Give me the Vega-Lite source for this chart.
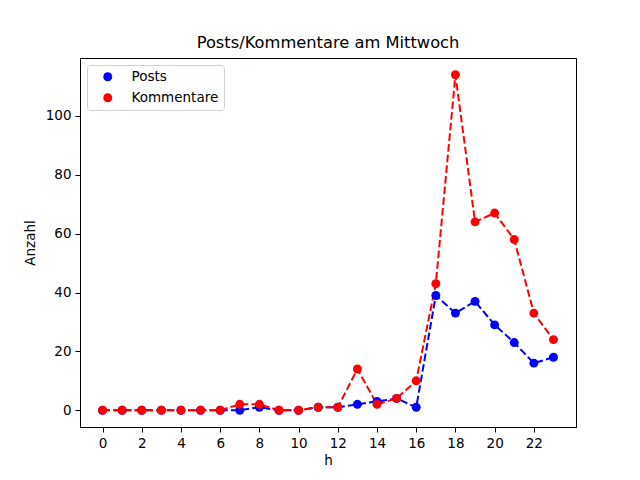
{
  "$schema": "https://vega.github.io/schema/vega-lite/v6.json",
  "autosize": {"type": "none"},
  "width": 496,
  "height": 369,
  "padding": {"left": 80, "top": 58, "right": 64, "bottom": 53},
  "background": "white",
  "title": {"text": "Posts/Kommentare am Mittwoch", "fontSize": 16.3, "font": "DejaVu Sans", "fontWeight": "normal", "offset": 7, "color": "black"},
  "config": {
    "view": {"stroke": "black", "strokeWidth": 1},
    "axis": {"grid": false, "domainColor": "black", "tickColor": "black", "tickSize": 5, "labelFont": "DejaVu Sans", "labelFontSize": 13.5, "labelColor": "black", "titleFont": "DejaVu Sans", "titleFontSize": 13.5, "titleFontWeight": "normal", "titleColor": "black", "labelPadding": 4}
  },
  "data": {"values": [
    {"h": 0, "Anzahl": 0, "series": "Posts"},
    {"h": 1, "Anzahl": 0, "series": "Posts"},
    {"h": 2, "Anzahl": 0, "series": "Posts"},
    {"h": 3, "Anzahl": 0, "series": "Posts"},
    {"h": 4, "Anzahl": 0, "series": "Posts"},
    {"h": 5, "Anzahl": 0, "series": "Posts"},
    {"h": 6, "Anzahl": 0, "series": "Posts"},
    {"h": 7, "Anzahl": 0, "series": "Posts"},
    {"h": 8, "Anzahl": 1, "series": "Posts"},
    {"h": 9, "Anzahl": 0, "series": "Posts"},
    {"h": 10, "Anzahl": 0, "series": "Posts"},
    {"h": 11, "Anzahl": 1, "series": "Posts"},
    {"h": 12, "Anzahl": 1, "series": "Posts"},
    {"h": 13, "Anzahl": 2, "series": "Posts"},
    {"h": 14, "Anzahl": 3, "series": "Posts"},
    {"h": 15, "Anzahl": 4, "series": "Posts"},
    {"h": 16, "Anzahl": 1, "series": "Posts"},
    {"h": 17, "Anzahl": 39, "series": "Posts"},
    {"h": 18, "Anzahl": 33, "series": "Posts"},
    {"h": 19, "Anzahl": 37, "series": "Posts"},
    {"h": 20, "Anzahl": 29, "series": "Posts"},
    {"h": 21, "Anzahl": 23, "series": "Posts"},
    {"h": 22, "Anzahl": 16, "series": "Posts"},
    {"h": 23, "Anzahl": 18, "series": "Posts"},
    {"h": 0, "Anzahl": 0, "series": "Kommentare"},
    {"h": 1, "Anzahl": 0, "series": "Kommentare"},
    {"h": 2, "Anzahl": 0, "series": "Kommentare"},
    {"h": 3, "Anzahl": 0, "series": "Kommentare"},
    {"h": 4, "Anzahl": 0, "series": "Kommentare"},
    {"h": 5, "Anzahl": 0, "series": "Kommentare"},
    {"h": 6, "Anzahl": 0, "series": "Kommentare"},
    {"h": 7, "Anzahl": 2, "series": "Kommentare"},
    {"h": 8, "Anzahl": 2, "series": "Kommentare"},
    {"h": 9, "Anzahl": 0, "series": "Kommentare"},
    {"h": 10, "Anzahl": 0, "series": "Kommentare"},
    {"h": 11, "Anzahl": 1, "series": "Kommentare"},
    {"h": 12, "Anzahl": 1, "series": "Kommentare"},
    {"h": 13, "Anzahl": 14, "series": "Kommentare"},
    {"h": 14, "Anzahl": 2, "series": "Kommentare"},
    {"h": 15, "Anzahl": 4, "series": "Kommentare"},
    {"h": 16, "Anzahl": 10, "series": "Kommentare"},
    {"h": 17, "Anzahl": 43, "series": "Kommentare"},
    {"h": 18, "Anzahl": 114, "series": "Kommentare"},
    {"h": 19, "Anzahl": 64, "series": "Kommentare"},
    {"h": 20, "Anzahl": 67, "series": "Kommentare"},
    {"h": 21, "Anzahl": 58, "series": "Kommentare"},
    {"h": 22, "Anzahl": 33, "series": "Kommentare"},
    {"h": 23, "Anzahl": 24, "series": "Kommentare"}
  ]},
  "encoding": {
    "x": {"field": "h", "type": "quantitative", "scale": {"domain": [-1.15, 24.15], "nice": false, "zero": false}, "axis": {"values": [0, 2, 4, 6, 8, 10, 12, 14, 16, 18, 20, 22], "title": "h", "titlePadding": 4}},
    "y": {"field": "Anzahl", "type": "quantitative", "scale": {"domain": [-5.7, 119.7], "nice": false, "zero": false}, "axis": {"values": [0, 20, 40, 60, 80, 100], "title": "Anzahl", "titlePadding": 8}}
  },
  "resolve": {"legend": {"color": "independent"}},
  "layer": [
    {"mark": {"type": "line", "strokeWidth": 2, "strokeDash": [7.5, 3.2]}, "encoding": {"color": {"field": "series", "type": "nominal", "scale": {"domain": ["Posts", "Kommentare"], "range": ["#0000ff", "#ff0000"]}, "legend": null}}},
    {"mark": {"type": "point", "filled": true, "opacity": 1, "size": 80, "shape": "circle"},
     "encoding": {"color": {"field": "series", "type": "nominal", "scale": {"domain": ["Posts", "Kommentare"], "range": ["#0000ff", "#ff0000"]},
       "legend": {"title": null, "orient": "none", "legendX": 7, "legendY": 7, "symbolType": "circle", "symbolSize": 80, "symbolOpacity": 1, "symbolStrokeWidth": 0, "labelFont": "DejaVu Sans", "labelFontSize": 13.5, "labelColor": "black", "labelOffset": 17, "rowPadding": 6, "padding": 5, "strokeColor": "#d0d0d0", "fillColor": "white", "cornerRadius": 3, "symbolOffset": 9}}}}
  ]
}
